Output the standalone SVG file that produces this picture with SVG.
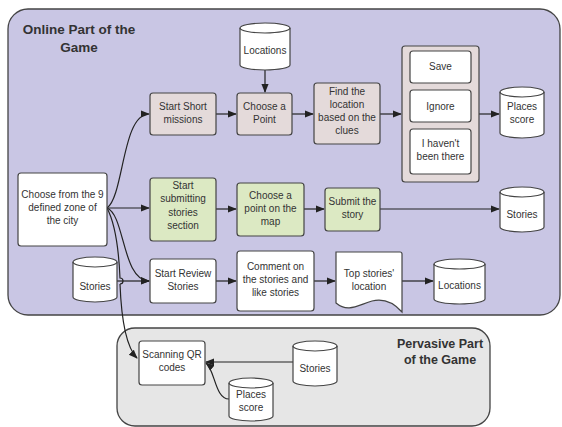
<svg xmlns="http://www.w3.org/2000/svg" width="562" height="427" viewBox="0 0 562 427">
<defs>
<marker id="ah" viewBox="0 0 10 10" refX="9" refY="5" markerWidth="9" markerHeight="9" markerUnits="userSpaceOnUse" orient="auto">
<path d="M0,1 L10,5 L0,9 Z" fill="#222"/>
</marker>
</defs>
<style>
text{font-family:"Liberation Sans",Arial,sans-serif;font-size:10px;fill:#333;text-anchor:middle}
.t{font-weight:bold;font-size:13.5px;fill:#333}
.box{stroke:#444;stroke-width:1.2}
.w{fill:#fff}
.p{fill:#e4dada}
.g{fill:#dce9c3}
.c{stroke:#222;stroke-width:1.2;fill:none;marker-end:url(#ah)}
.cl{stroke:#222;stroke-width:1.2;fill:none}
</style>
<rect width="562" height="427" fill="#fff"/>
<g id="online">
<rect x="8" y="9" width="552" height="306" rx="20" fill="#c9c6e4" stroke="#444" stroke-width="1.3"/>
<text class="t" x="79" y="34">Online Part of the</text>
<text class="t" x="79" y="52">Game</text>
</g>
<g id="pervasive">
<rect x="117" y="328" width="373" height="98" rx="18" fill="#e6e6e6" stroke="#444" stroke-width="1.3"/>
<text class="t" x="440" y="348" style="font-size:12.5px">Pervasive Part</text>
<text class="t" x="440" y="364" style="font-size:12.5px">of the Game</text>
</g>
<g id="connectors">
<path class="c" d="M107,208 C124,196 122,114 149,114"/>
<path class="c" d="M107,208 H149"/>
<path class="c" d="M107,208 C125,215 122,280 149,281"/>
<path class="cl" d="M107,208 C116,225 119,255 120,278 A3,3 0 0 1 120,284"/>
<path class="c" d="M120,284 C121,310 124,345 137,358"/>
<path class="c" d="M117,281 H149"/>
<path class="c" d="M216,114 H236"/>
<path class="c" d="M265,70 V92"/>
<path class="c" d="M292,114 H313"/>
<path class="c" d="M380,114 H401"/>
<path class="c" d="M479,114 H499"/>
<path class="c" d="M216,209 H236"/>
<path class="c" d="M304,209 H324"/>
<path class="c" d="M380,209 H499"/>
<path class="c" d="M216,281 H236"/>
<path class="c" d="M314,281 H335"/>
<path class="c" d="M402,281 H433"/>
<path class="c" d="M293,362 H206"/>
<path class="c" d="M229,399 C215,399 215,370 206,363"/>
</g>
<g id="locations-top">
<path class="box w" d="M240,28 A25,5 0 0 1 290,28 V65 A25,5 0 0 1 240,65 Z"/>
<path class="box" fill="none" d="M240,28 A25,5 0 0 0 290,28"/>
<text x="265" y="54">Locations</text>
</g>
<g id="start-short">
<rect class="box p" x="150" y="93" width="66" height="42" rx="3"/>
<text x="183" y="110">Start Short</text>
<text x="183" y="123">missions</text>
</g>
<g id="choose-point">
<rect class="box p" x="237" y="93" width="55" height="42" rx="3"/>
<text x="264.5" y="110">Choose a</text>
<text x="264.5" y="123">Point</text>
</g>
<g id="find-location">
<rect class="box p" x="314" y="83" width="66" height="61" rx="3"/>
<text x="347" y="95">Find the</text>
<text x="347" y="108">location</text>
<text x="347" y="121">based on the</text>
<text x="347" y="134">clues</text>
</g>
<g id="options">
<rect class="box p" x="402" y="46" width="77" height="136" rx="3"/>
<g id="save"><rect class="box w" x="410" y="51" width="61" height="32" rx="3"/><text x="440.5" y="70">Save</text></g>
<g id="ignore"><rect class="box w" x="410" y="90" width="61" height="32" rx="3"/><text x="440.5" y="110">Ignore</text></g>
<g id="not-been"><rect class="box w" x="410" y="129" width="61" height="45" rx="3"/><text x="440.5" y="147">I haven't</text><text x="440.5" y="160">been there</text></g>
</g>
<g id="places-score-top">
<path class="box w" d="M500,92 A22,5 0 0 1 544,92 V133 A22,5 0 0 1 500,133 Z"/>
<path class="box" fill="none" d="M500,92 A22,5 0 0 0 544,92"/>
<text x="522" y="110">Places</text>
<text x="522" y="123">score</text>
</g>
<g id="choose-zone">
<rect class="box w" x="18" y="173" width="89" height="73" rx="3"/>
<text x="62.5" y="198">Choose from the 9</text>
<text x="62.5" y="211">defined zone of</text>
<text x="62.5" y="224">the city</text>
</g>
<g id="start-submitting">
<rect class="box g" x="150" y="178" width="66" height="63" rx="3"/>
<text x="183" y="189">Start</text>
<text x="183" y="202">submitting</text>
<text x="183" y="216">stories</text>
<text x="183" y="229">section</text>
</g>
<g id="choose-map">
<rect class="box g" x="237" y="183" width="67" height="53" rx="3"/>
<text x="270.5" y="199">Choose a</text>
<text x="270.5" y="212">point on the</text>
<text x="270.5" y="225">map</text>
</g>
<g id="submit-story">
<rect class="box g" x="325" y="188" width="55" height="43" rx="3"/>
<text x="352.5" y="205">Submit the</text>
<text x="352.5" y="218">story</text>
</g>
<g id="stories-right">
<path class="box w" d="M500,192 A22,5 0 0 1 544,192 V227 A22,5 0 0 1 500,227 Z"/>
<path class="box" fill="none" d="M500,192 A22,5 0 0 0 544,192"/>
<text x="522" y="218">Stories</text>
</g>
<g id="stories-left">
<path class="box w" d="M73,262 A22,5 0 0 1 117,262 V297 A22,5 0 0 1 73,297 Z"/>
<path class="box" fill="none" d="M73,262 A22,5 0 0 0 117,262"/>
<text x="95" y="290">Stories</text>
</g>
<g id="start-review">
<rect class="box w" x="150" y="259" width="66" height="44" rx="3"/>
<text x="183" y="277">Start Review</text>
<text x="183" y="290">Stories</text>
</g>
<g id="comment">
<rect class="box w" x="237" y="251" width="77" height="60" rx="3"/>
<text x="275.5" y="270">Comment on</text>
<text x="275.5" y="283">the stories and</text>
<text x="275.5" y="296">like stories</text>
</g>
<g id="top-stories">
<path class="box w" d="M336,252 H400 Q402,252 402,254 V312 C394,303 384,298 372,301 C358,305 348,313 336,303 Z"/>
<text x="369" y="277">Top stories'</text>
<text x="369" y="290">location</text>
</g>
<g id="locations-bottom">
<path class="box w" d="M434,264 A25.5,5 0 0 1 485,264 V299 A25.5,5 0 0 1 434,299 Z"/>
<path class="box" fill="none" d="M434,264 A25.5,5 0 0 0 485,264"/>
<text x="459.5" y="289">Locations</text>
</g>
<g id="scanning-qr">
<rect class="box w" x="139" y="341" width="66" height="44" rx="3"/>
<text x="172" y="358">Scanning QR</text>
<text x="172" y="371">codes</text>
</g>
<g id="stories-bottom">
<path class="box w" d="M293,346 A22,5 0 0 1 337,346 V381 A22,5 0 0 1 293,381 Z"/>
<path class="box" fill="none" d="M293,346 A22,5 0 0 0 337,346"/>
<text x="315" y="372">Stories</text>
</g>
<g id="places-score-bottom">
<path class="box w" d="M229,383 A22,5 0 0 1 273,383 V416 A22,5 0 0 1 229,416 Z"/>
<path class="box" fill="none" d="M229,383 A22,5 0 0 0 273,383"/>
<text x="251" y="398">Places</text>
<text x="251" y="411">score</text>
</g>
</svg>
